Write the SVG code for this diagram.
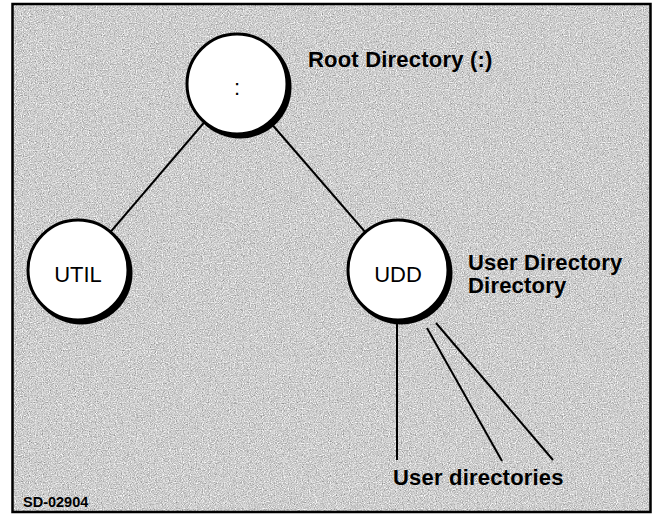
<svg xmlns="http://www.w3.org/2000/svg" width="654" height="516" viewBox="0 0 654 516">
  <defs>
    <!-- fine halftone-like grain for the panel background -->
    <filter id="grain" x="0" y="0" width="100%" height="100%" color-interpolation-filters="sRGB">
      <feTurbulence type="fractalNoise" baseFrequency="0.85" numOctaves="2" seed="7" result="noise"/>
      <feColorMatrix in="noise" type="matrix" values="0.33 0.33 0.33 0 0  0.33 0.33 0.33 0 0  0.33 0.33 0.33 0 0  0 0 0 0 1" result="gray"/>
      <feComponentTransfer in="gray" result="tone">
        <feFuncR type="linear" slope="1.1" intercept="0.26"/>
        <feFuncG type="linear" slope="1.1" intercept="0.26"/>
        <feFuncB type="linear" slope="1.1" intercept="0.26"/>
      </feComponentTransfer>
      <feComposite in="tone" in2="SourceGraphic" operator="in"/>
    </filter>
  </defs>
  <style>
    .panel { fill: #cbcbcb; }
    .frame { fill: none; stroke: #000; stroke-width: 2.5; }
    .shadow { fill: #000; }
    .node { fill: #fff; stroke: #000; stroke-width: 3; }
    .link { stroke: #000; stroke-width: 2; fill: none; }
    .name { font-family: "Liberation Sans", Arial, sans-serif; font-size: 22px; fill: #000; text-anchor: middle; }
    .label { font-family: "Liberation Sans", Arial, sans-serif; font-size: 22px; font-weight: bold; fill: #000; letter-spacing: 0.2px; }
    .tag { font-family: "Liberation Sans", Arial, sans-serif; font-size: 14.5px; font-weight: bold; fill: #000; }
  </style>
  <rect width="654" height="516" fill="#fff"/>
  <rect class="panel" x="12.5" y="4" width="638" height="508" filter="url(#grain)"/>
  <rect class="frame" x="12.5" y="4" width="638" height="508"/>

  <g id="connectors">
    <line class="link" x1="237" y1="84" x2="78" y2="270"/>
    <line class="link" x1="237" y1="84" x2="398" y2="270"/>
    <line class="link" x1="397" y1="318" x2="397" y2="460"/>
    <line class="link" x1="427" y1="328" x2="502" y2="461"/>
    <line class="link" x1="436" y1="323" x2="553" y2="460"/>
  </g>

  <g id="root">
    <circle class="shadow" cx="240" cy="87" r="51.5"/>
    <circle class="node" cx="237" cy="84" r="50"/>
    <text class="name" x="237" y="95">:</text>
    <text class="label" x="308" y="67">Root Directory (:)</text>
  </g>

  <g id="util">
    <circle class="shadow" cx="81" cy="273" r="51.5"/>
    <circle class="node" cx="78" cy="270" r="50"/>
    <text class="name" x="78" y="282">UTIL</text>
  </g>

  <g id="udd">
    <circle class="shadow" cx="401" cy="273" r="51.5"/>
    <circle class="node" cx="398" cy="270" r="50"/>
    <text class="name" x="398" y="282">UDD</text>
    <text class="label" x="468" y="270">User Directory</text>
    <text class="label" x="468" y="293">Directory</text>
  </g>

  <g id="user-directories">
    <text class="label" x="393" y="485">User directories</text>
  </g>

  <text class="tag" x="23" y="507">SD-02904</text>
</svg>
